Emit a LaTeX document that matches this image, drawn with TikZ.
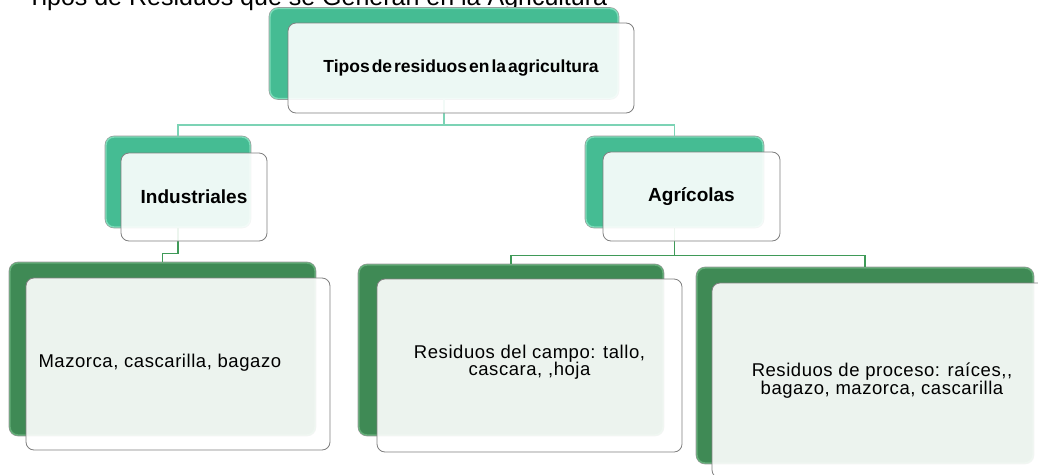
\documentclass[tikz,border=0pt]{standalone}
\usepackage{fontspec}
\setmainfont{Liberation Sans}
\newfontfamily\leaffont[LetterSpace=3]{Liberation Sans}
\definecolor{topgreen}{HTML}{45BC93}
\definecolor{toprim}{HTML}{7DDCB9}
\definecolor{lowgreen}{HTML}{3F8A55}
\definecolor{lowrim}{HTML}{63AE78}
\definecolor{toplink}{HTML}{7CD3B5}
\definecolor{lowlink}{HTML}{3F9A58}
\definecolor{boxline}{HTML}{7F7F7F}
\tikzset{
  backtop/.style={preaction={draw=gray!80, line width=2.6pt}, draw=toprim, line width=1.4pt, fill=topgreen, rounded corners=8pt, inner sep=0pt},
  backlow/.style={preaction={draw=gray!80, line width=2.6pt}, draw=lowrim, line width=1.4pt, fill=lowgreen, rounded corners=8pt, inner sep=0pt},
  frontbox/.style={draw=boxline, line width=0.8pt, fill=white, fill opacity=0.9, text opacity=1, rounded corners=8pt, inner sep=0pt, align=center},
  toplinkst/.style={draw=toplink, line width=1.5pt},
  lowlinkst/.style={draw=lowlink, line width=1.2pt},
  lvlone/.style={font=\bfseries\fontsize{19}{22}\selectfont},
  leaftext/.style={font=\leaffont\fontsize{18.5}{17}\selectfont}
}
\begin{document}
\begin{tikzpicture}[x=1pt,y=-1pt]
\useasboundingbox (0,0) rectangle (1038,474);
% title
\node[anchor=base west, inner sep=0pt, font=\fontsize{25}{28}\selectfont] (title) at (27,5) {Tipos de Residuos que se Generan en la Agricultura};
% back shapes
\node[backtop, minimum width=348, minimum height=90] (tg) at (444,53.5) {};
\node[backtop, minimum width=144, minimum height=90] (ig) at (178,182) {};
\node[backtop, minimum width=177, minimum height=90] (ag) at (674.5,182) {};
\node[backlow, minimum width=305, minimum height=172] (mg) at (162.5,349) {};
\node[backlow, minimum width=304, minimum height=170] (cg) at (511,350) {};
\node[backlow, minimum width=336, minimum height=195] (pg) at (865,365.5) {};
% connectors
\draw[toplinkst] (tg.south) -- ++(0,26) coordinate (tj) -| (ig.north);
\draw[toplinkst] (tj) -| (ag.north);
\draw[lowlinkst] (ig.south) -- ++(0,26) -| (mg.north);
\draw[lowlinkst] (ag.south) -- ++(0,28) coordinate (aj) -| (cg.north);
\draw[lowlinkst] (aj) -| (pg.north);
% front boxes
\node[frontbox, minimum width=346, minimum height=90] (tw) at (461,68) {{\bfseries\fontsize{17.5}{20}\selectfont\spaceskip=2pt Tipos de residuos en la agricultura}};
\node[frontbox, lvlone, minimum width=146, minimum height=88] (iw) at (194,197) {Industriales};
\node[frontbox, lvlone, minimum width=177, minimum height=89] (aw) at (691.5,196.5) {Agrícolas};
\node[frontbox, minimum width=304, minimum height=172] (mw) at (178,364) {};
\node[leaftext, anchor=west] (mt) at (35,363) {Mazorca, cascarilla, bagazo};
\node[frontbox, leaftext, minimum width=305, minimum height=173] (cw) at (529.5,365.5) {\raisebox{20pt}{\parbox{300pt}{\centering Residuos del campo: tallo,\\[-1pt] cascara, ,hoja}}};
\node[frontbox, leaftext, minimum width=338, minimum height=195] (pw) at (881,380.5) {\raisebox{4pt}{\parbox{330pt}{\centering\hspace*{2pt}Residuos de proceso: raíces,,\\[-1pt]\hspace*{2pt}bagazo, mazorca, cascarilla}}};
\end{tikzpicture}
\end{document}
